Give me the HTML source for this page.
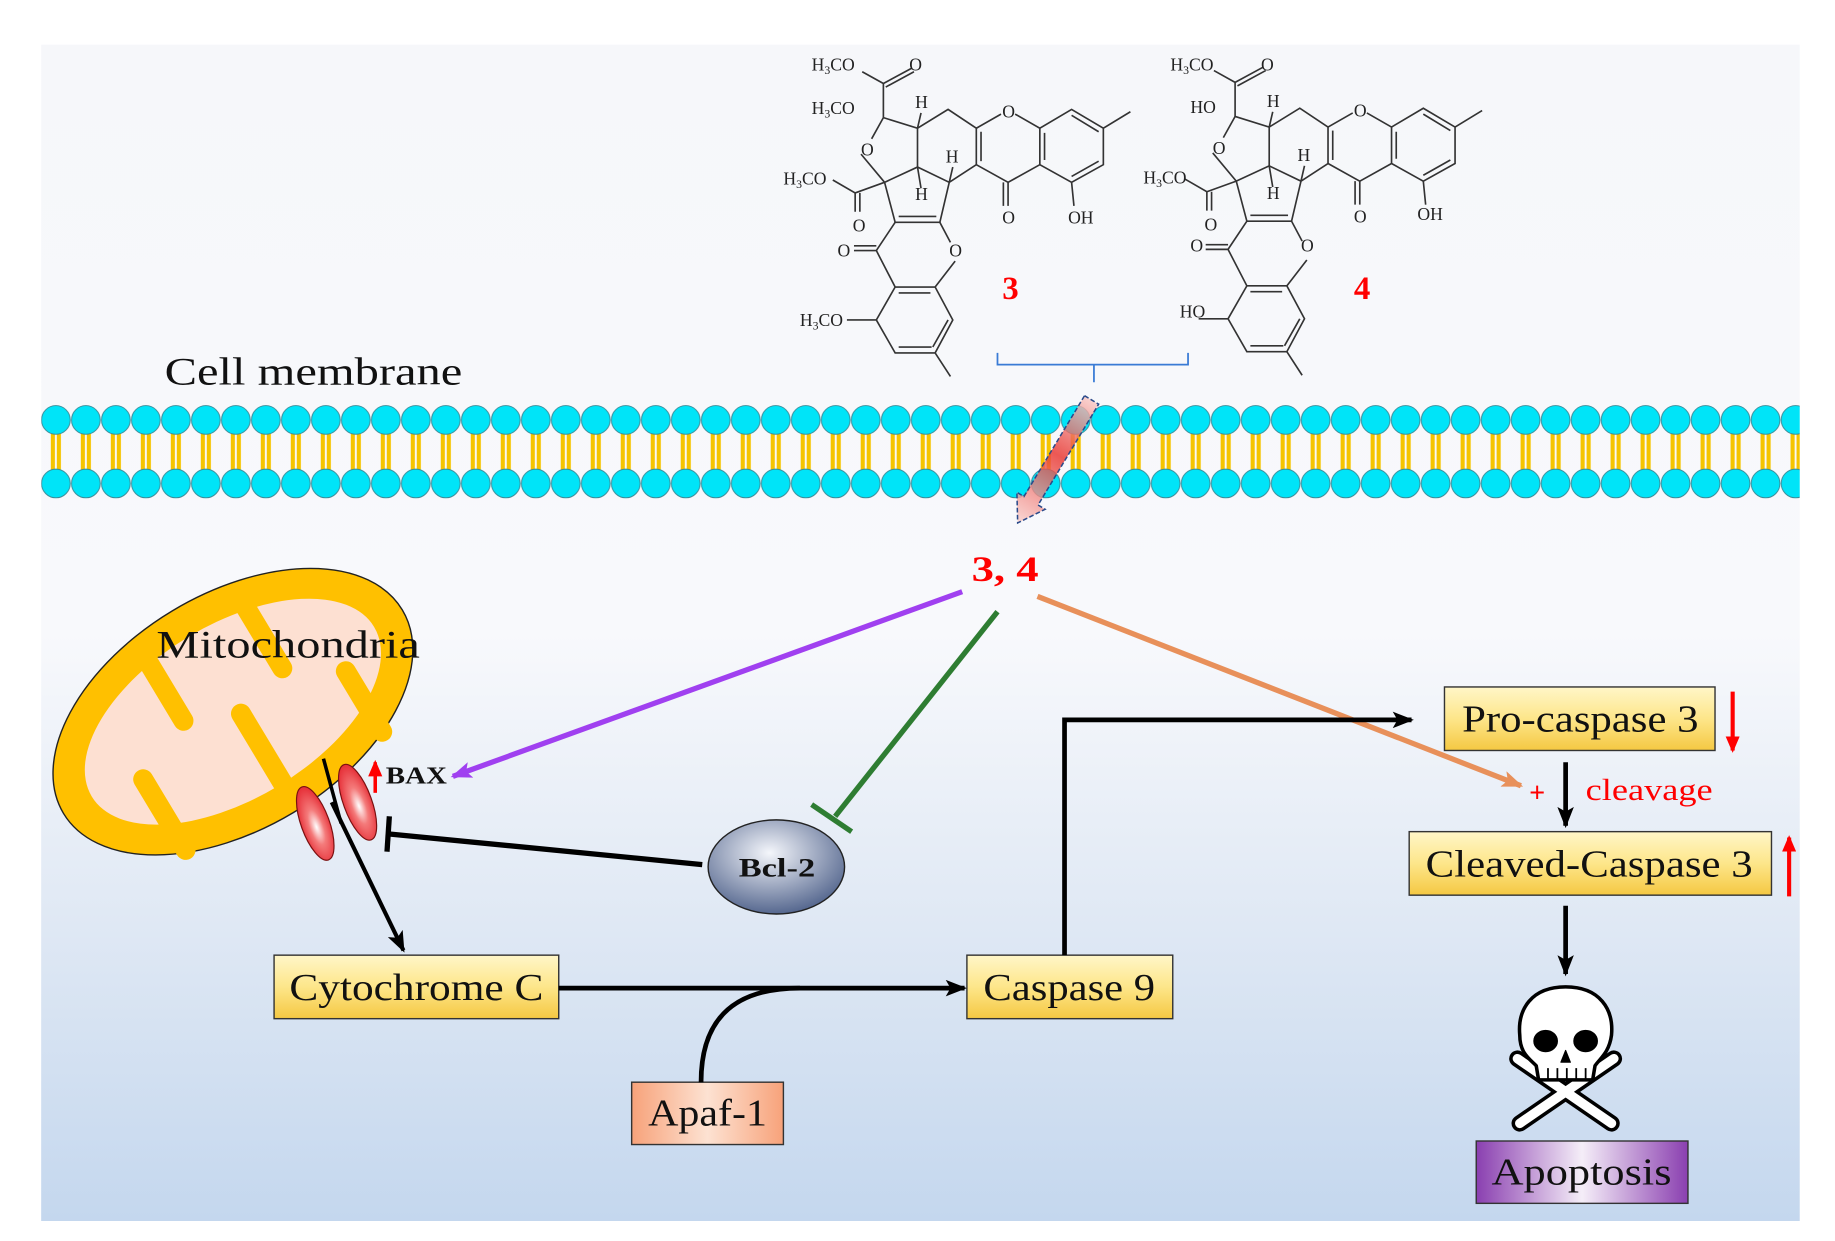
<!DOCTYPE html>
<html><head><meta charset="utf-8"><style>
html,body{margin:0;padding:0;background:#fff;}
svg{display:block;}
svg text{font-family:"Liberation Serif",serif;}
</style></head><body>
<svg width="1835" height="1241" viewBox="0 0 1560 1055" xmlns="http://www.w3.org/2000/svg" font-family="Liberation Serif, serif">
<defs>
<linearGradient id="bg" x1="0" y1="0" x2="0" y2="1">
<stop offset="0" stop-color="#f6f7fa"/><stop offset="0.5" stop-color="#f8f9fc"/><stop offset="0.75" stop-color="#dfe8f4"/><stop offset="1" stop-color="#c4d7ee"/></linearGradient>
<pattern id="mem" x="34.75" y="0" width="25.5" height="1055" patternUnits="userSpaceOnUse">
<line x1="10.2" y1="366" x2="10.2" y2="402" stroke="#f5c400" stroke-width="3.5"/>
<line x1="15.3" y1="366" x2="15.3" y2="402" stroke="#f5c400" stroke-width="3.5"/>
<circle cx="12.75" cy="357" r="12.2" fill="#00e4f8" stroke="#3a8a96" stroke-width="0.8"/>
<circle cx="12.75" cy="411" r="12.2" fill="#00e4f8" stroke="#3a8a96" stroke-width="0.8"/>
</pattern>
<linearGradient id="gold" x1="0" y1="0" x2="0" y2="1"><stop offset="0" stop-color="#fff6c8"/><stop offset="0.5" stop-color="#fde68a"/><stop offset="1" stop-color="#f5c842"/></linearGradient>
<linearGradient id="peach" x1="0" y1="0" x2="1" y2="0"><stop offset="0" stop-color="#f7a27a"/><stop offset="0.5" stop-color="#fde2d2"/><stop offset="1" stop-color="#f7a27a"/></linearGradient>
<linearGradient id="purp" x1="0" y1="0" x2="1" y2="0"><stop offset="0" stop-color="#8a3fb0"/><stop offset="0.5" stop-color="#f5eef8"/><stop offset="1" stop-color="#8a3fb0"/></linearGradient>
<radialGradient id="bcl" cx="0.45" cy="0.35" r="0.7"><stop offset="0" stop-color="#f4f6fb"/><stop offset="1" stop-color="#4a5d87"/></radialGradient>
<radialGradient id="redov" cx="0.5" cy="0.55" r="0.6"><stop offset="0" stop-color="#fff"/><stop offset="0.4" stop-color="#f47a7a"/><stop offset="1" stop-color="#e3202a"/></radialGradient>
<linearGradient id="pinkarr" x1="0" y1="0" x2="0" y2="1"><stop offset="0" stop-color="#f9c8c4"/><stop offset="0.45" stop-color="#e8302a"/><stop offset="1" stop-color="#f9d0cc"/></linearGradient>
<marker id="ab2" markerWidth="18" markerHeight="14" refX="16" refY="7" orient="auto" markerUnits="userSpaceOnUse"><path d="M0,0 L18,7 L0,14 L4,7 Z" fill="#000"/></marker>
<marker id="ap" markerWidth="18" markerHeight="14" refX="16" refY="7" orient="auto" markerUnits="userSpaceOnUse"><path d="M0,0 L18,7 L0,14 L4,7 Z" fill="#a040f0"/></marker>
<marker id="ao" markerWidth="18" markerHeight="14" refX="16" refY="7" orient="auto" markerUnits="userSpaceOnUse"><path d="M0,0 L18,7 L0,14 L4,7 Z" fill="#e8905a"/></marker>
<marker id="ar" markerWidth="14" markerHeight="12" refX="12" refY="6" orient="auto" markerUnits="userSpaceOnUse"><path d="M0,0 L14,6 L0,12 Z" fill="#f00"/></marker>
<g id="mol" stroke="#333" stroke-width="1.4" fill="none">
<path d="M751,100 L751,71 M751,71 L733,61 M751,71 L775,58 M753,74 L777,61"/>
<path d="M751,100 L741,118 M732,131 L752,155 L780,142 L780,109 L751,100"/>
<path d="M780,109 L806,93 L830,109 L830,140 L807,155 L780,142 M807,155 L799,189"/>
<path d="M834,112 L834,137"/>
<path d="M830,109 L851,97 M863,97 L884,109 L884,140 L857,155 L830,140 M857,155 L857,175 M853,155 L853,175"/>
<path d="M884,109 L911,93 L938,109 L938,140 L911,155 L884,140 M888,113 L888,136 M911,98 L934,112 M934,137 L911,150 M938,109 L961,95 M911,155 L913,175"/>
<path d="M752,155 L727,164 L708,153 M727,164 L727,180 M731,164 L731,180 M752,155 L761,189 L799,189 L808,206 M764,184 L796,184"/>
<path d="M761,189 L745,213 L726,213 M745,209 L726,209 M745,213 L761,244 L795,244 L810,272 L795,300 L761,300 L745,272 L761,244 M795,244 L812,222 M764,249 L791,249 M806,272 L793,295 M764,295 L792,295 M745,272 L720,272 M795,300 L808,320"/>
<path d="M780,109 L783,96 M780,142 L783,160 M807,155 L810,142"/>
</g>
</defs>
<rect x="0" y="0" width="1560" height="1055" fill="#fff"/>
<rect x="35" y="38" width="1495" height="1000" fill="url(#bg)"/>
<rect x="35" y="340" width="1495" height="90" fill="url(#mem)"/>
<use href="#mol"/>
<use href="#mol" transform="translate(299,-1)"/>
<g font-size="15" fill="#222">
<text x="690" y="60">H<tspan font-size="10" dy="3">3</tspan><tspan dy="-3">CO</tspan></text><text x="773" y="60">O</text>
<text x="690" y="97">H<tspan font-size="10" dy="3">3</tspan><tspan dy="-3">CO</tspan></text>
<text x="732" y="132">O</text>
<text x="666" y="157">H<tspan font-size="10" dy="3">3</tspan><tspan dy="-3">CO</tspan></text>
<text x="725" y="197">O</text>
<text x="778" y="92">H</text><text x="804" y="138">H</text><text x="778" y="170">H</text>
<text x="852" y="100">O</text><text x="852" y="190">O</text><text x="908" y="190">OH</text>
<text x="712" y="218">O</text><text x="807" y="218">O</text>
<text x="680" y="277">H<tspan font-size="10" dy="3">3</tspan><tspan dy="-3">CO</tspan></text>
<text x="995" y="60">H<tspan font-size="10" dy="3">3</tspan><tspan dy="-3">CO</tspan></text><text x="1072" y="60">O</text>
<text x="1012" y="96">HO</text>
<text x="1031" y="131">O</text>
<text x="972" y="156">H<tspan font-size="10" dy="3">3</tspan><tspan dy="-3">CO</tspan></text>
<text x="1024" y="196">O</text>
<text x="1077" y="91">H</text><text x="1103" y="137">H</text><text x="1077" y="169">H</text>
<text x="1151" y="99">O</text><text x="1151" y="189">O</text><text x="1205" y="187">OH</text>
<text x="1012" y="214">O</text><text x="1106" y="214">O</text>
<text x="1003" y="270">HO</text>
</g>
<text x="852" y="254" font-size="28" font-weight="bold" fill="#f00">3</text>
<text x="1151" y="254" font-size="28" font-weight="bold" fill="#f00">4</text>
<path d="M848,300 L848,310 L1010,310 L1010,300 M930,310 L930,325" stroke="#3a7bd5" stroke-width="1.5" fill="none"/>
<text x="140" y="327" font-size="33" fill="#111" textLength="253" lengthAdjust="spacingAndGlyphs">Cell membrane</text>
<g transform="translate(928,340) rotate(31)">
<path d="M-7,0 L7,0 L7,100 L14,100 L0,122 L-14,100 L-7,100 Z" fill="url(#pinkarr)" fill-opacity="0.8" stroke="#2a4a8a" stroke-width="1.3" stroke-dasharray="4,2"/>
</g>
<text x="826" y="494" font-size="31" font-weight="bold" fill="#f00" textLength="57" lengthAdjust="spacingAndGlyphs">3, 4</text>
<g transform="translate(198,605) rotate(-31)">
<ellipse cx="0" cy="0" rx="168" ry="100" fill="#ffc000" stroke="#222" stroke-width="1.2"/>
<ellipse cx="0" cy="0" rx="140" ry="74" fill="#fde0d2"/>
<g stroke="#ffc000" stroke-width="17" stroke-linecap="round" fill="none">
<path d="M-95,80 L-95,10"/><path d="M-40,-80 L-40,-15"/><path d="M5,80 L5,5"/><path d="M55,-80 L55,-10"/><path d="M100,80 L100,20"/>
</g>
</g>
<text x="133" y="559" font-size="33" fill="#111" textLength="224" lengthAdjust="spacingAndGlyphs">Mitochondria</text>
<ellipse cx="268" cy="700" rx="12" ry="33" transform="rotate(-20 268 700)" fill="url(#redov)" stroke="#7a1010" stroke-width="1"/>
<ellipse cx="304" cy="682" rx="12" ry="34" transform="rotate(-20 304 682)" fill="url(#redov)" stroke="#7a1010" stroke-width="1"/>
<line x1="275" y1="645" x2="290" y2="700" stroke="#000" stroke-width="3"/>
<line x1="282" y1="682" x2="343" y2="808" stroke="#000" stroke-width="3.5" marker-end="url(#ab2)"/>
<text x="328" y="666" font-size="21" font-weight="bold" fill="#111" textLength="52" lengthAdjust="spacingAndGlyphs">BAX</text>
<line x1="319" y1="674" x2="319" y2="648" stroke="#f00" stroke-width="3" marker-end="url(#ar)"/>
<line x1="597" y1="735" x2="331" y2="709" stroke="#000" stroke-width="4.5"/>
<line x1="331" y1="694" x2="329" y2="724" stroke="#000" stroke-width="4.5"/>
<line x1="818" y1="503" x2="385" y2="660" stroke="#a040f0" stroke-width="4.5" marker-end="url(#ap)"/>
<line x1="848" y1="520" x2="710" y2="694" stroke="#2e7d32" stroke-width="4.5"/>
<line x1="690" y1="684" x2="724" y2="707" stroke="#2e7d32" stroke-width="4.5"/>
<line x1="882" y1="507" x2="1293" y2="668" stroke="#e8905a" stroke-width="4.5" marker-end="url(#ao)"/>
<ellipse cx="660" cy="737" rx="58" ry="40" fill="url(#bcl)" stroke="#222" stroke-width="1.2"/>
<text x="628" y="745" font-size="22" font-weight="bold" fill="#111" textLength="65" lengthAdjust="spacingAndGlyphs">Bcl-2</text>
<rect x="233" y="812" width="242" height="54" fill="url(#gold)" stroke="#333" stroke-width="1.2"/>
<text x="246" y="850" font-size="32" fill="#111" textLength="216" lengthAdjust="spacingAndGlyphs">Cytochrome C</text>
<rect x="822" y="812" width="175" height="54" fill="url(#gold)" stroke="#333" stroke-width="1.2"/>
<text x="836" y="850" font-size="32" fill="#111" textLength="146" lengthAdjust="spacingAndGlyphs">Caspase 9</text>
<rect x="537" y="920" width="129" height="53" fill="url(#peach)" stroke="#333" stroke-width="1.2"/>
<text x="551" y="957" font-size="32" fill="#111" textLength="101" lengthAdjust="spacingAndGlyphs">Apaf-1</text>
<rect x="1228" y="584" width="230" height="54" fill="url(#gold)" stroke="#333" stroke-width="1.2"/>
<text x="1243" y="622" font-size="32" fill="#111" textLength="201" lengthAdjust="spacingAndGlyphs">Pro-caspase 3</text>
<rect x="1198" y="707" width="308" height="54" fill="url(#gold)" stroke="#333" stroke-width="1.2"/>
<text x="1212" y="745" font-size="32" fill="#111" textLength="278" lengthAdjust="spacingAndGlyphs">Cleaved-Caspase 3</text>
<rect x="1255" y="970" width="180" height="53" fill="url(#purp)" stroke="#333" stroke-width="1.2"/>
<text x="1268" y="1007" font-size="32" fill="#111" textLength="153" lengthAdjust="spacingAndGlyphs">Apoptosis</text>
<line x1="475" y1="840" x2="820" y2="840" stroke="#000" stroke-width="4" marker-end="url(#ab2)"/>
<path d="M596,920 C596,870 620,840 680,840" stroke="#000" stroke-width="4" fill="none"/>
<path d="M905,812 L905,612 L1200,612" stroke="#000" stroke-width="4" fill="none" marker-end="url(#ab2)"/>
<line x1="1331" y1="648" x2="1331" y2="702" stroke="#000" stroke-width="4" marker-end="url(#ab2)"/>
<line x1="1331" y1="770" x2="1331" y2="828" stroke="#000" stroke-width="4" marker-end="url(#ab2)"/>
<text x="1300" y="682" font-size="24" font-weight="bold" fill="#f00" font-family="Liberation Sans, sans-serif">+</text>
<text x="1348" y="680" font-size="26" fill="#f00" textLength="108" lengthAdjust="spacingAndGlyphs">cleavage</text>
<line x1="1473" y1="588" x2="1473" y2="638" stroke="#f00" stroke-width="3.5" marker-end="url(#ar)"/>
<line x1="1521" y1="762" x2="1521" y2="712" stroke="#f00" stroke-width="3.5" marker-end="url(#ar)"/>
<g stroke="#000" stroke-width="3" fill="#fff" stroke-linejoin="round">
<path d="M1292,955 L1372,900 M1290,900 L1370,955" stroke-width="14" stroke-linecap="round"/>
<path d="M1292,955 L1372,900 M1290,900 L1370,955" stroke="#fff" stroke-width="8" stroke-linecap="round"/>
<path d="M1331,839 C1360,839 1372,858 1370,880 C1368,895 1360,900 1356,906 L1354,918 L1308,918 L1306,906 C1300,900 1292,895 1292,880 C1290,858 1302,839 1331,839 Z"/>
<ellipse cx="1314" cy="885" rx="9" ry="8" fill="#000"/>
<ellipse cx="1348" cy="885" rx="9" ry="8" fill="#000"/>
<path d="M1331,893 L1327,903 L1335,903 Z" fill="#000" stroke-width="1"/>
<path d="M1316,908 L1316,918 M1324,908 L1324,918 M1332,908 L1332,918 M1340,908 L1340,918 M1348,908 L1348,918" stroke-width="1.5"/>
</g>
</svg>
</body></html>
